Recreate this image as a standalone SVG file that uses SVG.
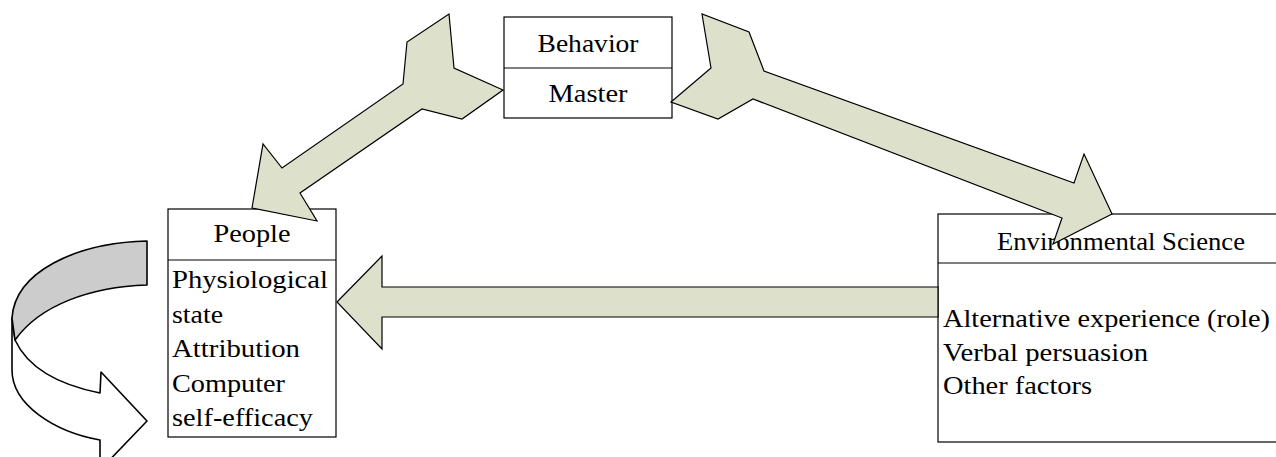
<svg xmlns="http://www.w3.org/2000/svg" width="1276" height="457" viewBox="0 0 1276 457">
  <style>
    .box { fill: #ffffff; stroke: #000000; stroke-width: 1.2; }
    .div { stroke: #000000; stroke-width: 1.2; fill: none; }
    .lbl { font-family: "Liberation Serif", "Times New Roman", serif; font-size: 26px; fill: #000000; }
    .mid { text-anchor: middle; }
    .big { fill: #dde1cc; stroke: #000000; stroke-width: 1.2; stroke-linejoin: miter; }
    .loop { stroke: #000000; stroke-width: 1.6; stroke-linejoin: round; }
  </style>
  <rect width="1276" height="457" fill="#ffffff"/>

  <!-- Behavior / Master -->
  <g id="behavior">
    <rect class="box" x="504" y="17" width="168" height="101"/>
    <line class="div" x1="504" y1="68" x2="672" y2="68"/>
    <text class="lbl mid" x="588" y="52" textLength="101" lengthAdjust="spacingAndGlyphs">Behavior</text>
    <text class="lbl mid" x="588" y="102" textLength="79" lengthAdjust="spacingAndGlyphs">Master</text>
  </g>

  <!-- People -->
  <g id="people">
    <rect class="box" x="168" y="209" width="168" height="228"/>
    <line class="div" x1="168" y1="260" x2="336" y2="260"/>
    <text class="lbl mid" x="252" y="242" textLength="77" lengthAdjust="spacingAndGlyphs">People</text>
    <text class="lbl" x="172" y="288" textLength="156" lengthAdjust="spacingAndGlyphs">Physiological</text>
    <text class="lbl" x="172" y="323" textLength="51" lengthAdjust="spacingAndGlyphs">state</text>
    <text class="lbl" x="172" y="357" textLength="128" lengthAdjust="spacingAndGlyphs">Attribution</text>
    <text class="lbl" x="172" y="392" textLength="113" lengthAdjust="spacingAndGlyphs">Computer</text>
    <text class="lbl" x="172" y="426" textLength="141" lengthAdjust="spacingAndGlyphs">self-efficacy</text>
  </g>

  <!-- Environmental Science -->
  <g id="environment">
    <rect class="box" x="938" y="214" width="360" height="228"/>
    <line class="div" x1="938" y1="263" x2="1290" y2="263"/>
    <text class="lbl mid" x="1121" y="250" textLength="248" lengthAdjust="spacingAndGlyphs">Environmental Science</text>
    <text class="lbl" x="943" y="327" textLength="327" lengthAdjust="spacingAndGlyphs">Alternative experience (role)</text>
    <text class="lbl" x="943" y="361" textLength="205" lengthAdjust="spacingAndGlyphs">Verbal persuasion</text>
    <text class="lbl" x="943" y="394" textLength="149" lengthAdjust="spacingAndGlyphs">Other factors</text>
  </g>

  <!-- Connectors -->
  <g id="connectors">
    <!-- Master to People -->
    <polygon class="big" points="503,90 454,68 449,14 407,42 403,84 282,168 263,144 252,208 317,221 300,193 422,109 462,119"/>
    <!-- Master to Environmental Science -->
    <polygon class="big" points="671,102 711,68 702,14 749,32 764,71 1074,183 1084,154 1112,214 1053,244 1062,218 753,99 718,119"/>
    <!-- Environmental Science to People -->
    <polygon class="big" points="337,302 382,256 382,287 938,287 938,317 382,317 382,349"/>
    <!-- Self-loop beside People -->
    <g id="self-loop">
      <path class="loop" fill="#ffffff" d="M12,318 L12,370 C12,405 55,432 100,440 L100,470 L147,421 L101,372 L100,393 C60,385 28,368 15,340 Z"/>
      <path class="loop" fill="#cccccc" d="M147,241 C75,243 15,272 12,318 L15,340 C40,305 90,287 147,285 Z"/>
    </g>
  </g>
</svg>
